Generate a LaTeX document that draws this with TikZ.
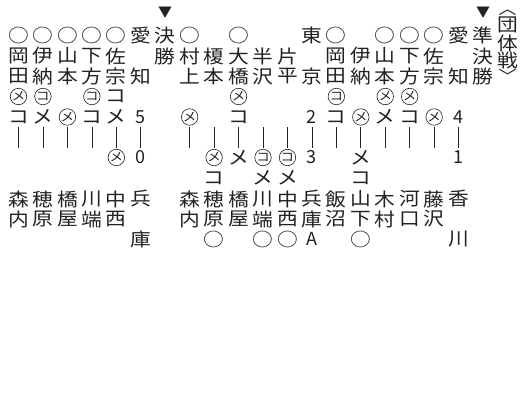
\documentclass[tikz,border=0pt]{standalone}
\usepackage{fontspec}
\newfontfamily\jpw[FakeStretch=1.12]{Noto Sans CJK JP}
\newfontfamily\jpn{Noto Sans CJK JP}
\definecolor{ink}{HTML}{222222}
\newcommand\colX[1]{\fpeval{18.5+24.45*(#1-1)}}
\def\rowyZ{12.5}\def\rowyA{35.5}\def\rowyB{56}\def\rowyC{76.5}\def\rowyD{96.5}\def\rowyE{117}
\def\rowyF{157.5}\def\rowyG{178}\def\rowyH{199}\def\rowyI{219}\def\rowyJ{239}
\newcommand\T[4][jpc]{\node[#1] (n#2#3) at (\colX{#2},\csname rowy#3\endcsname) {#4};}
\begin{document}
\begin{tikzpicture}[x=1pt,y=-1pt,
  jpc/.style={font=\jpw\fontsize{18.5}{18.5}\selectfont, inner sep=0pt, text=ink},
  brk/.style={font=\jpw\fontsize{16}{16}\selectfont, inner sep=0pt, text=ink},
  digit/.style={font=\jpn\fontsize{18}{18}\selectfont, inner sep=0pt, text=ink},
  circmark/.style={draw=ink, circle, line width=0.6pt, inner sep=0pt, minimum size=16.5pt,
             font=\jpw\fontsize{12}{12}\selectfont, text=ink},
  tritext/.style={font=\jpn\fontsize{14}{14}\selectfont, inner sep=0pt, text=ink},
  boutline/.style={draw=ink, line width=0.7pt}]
\useasboundingbox (0,0) rectangle (526,402);
% ---- left group
\T{1}{A}{○}\T{2}{A}{○}\T{3}{A}{○}\T{4}{A}{○}\T{5}{A}{○}\T{6}{A}{愛}\T{7}{A}{決}
\T{1}{B}{岡}\T{2}{B}{伊}\T{3}{B}{山}\T{4}{B}{下}\T{5}{B}{佐}\T{7}{B}{勝}
\T{1}{C}{田}\T{2}{C}{納}\T{3}{C}{本}\T{4}{C}{方}\T{5}{C}{宗}\T{6}{C}{知}
\T[circmark]{1}{D}{メ}\T[circmark]{2}{D}{コ}\T[circmark]{4}{D}{コ}\T{5}{D}{コ}
\T{1}{E}{コ}\T{2}{E}{メ}\T[circmark]{3}{E}{メ}\T{4}{E}{コ}\T{5}{E}{メ}\T[digit]{6}{E}{5}
\T[circmark]{5}{F}{メ}\T[digit]{6}{F}{0}
\T{1}{H}{森}\T{2}{H}{穂}\T{3}{H}{橋}\T{4}{H}{川}\T{5}{H}{中}\T{6}{H}{兵}
\T{1}{I}{内}\T{2}{I}{原}\T{3}{I}{屋}\T{4}{I}{端}\T{5}{I}{西}
\T{6}{J}{庫}
\T[tritext]{7}{Z}{▼}
% ---- right groups
\T{8}{A}{○}\T{10}{A}{○}\T{13}{A}{東}\T{14}{A}{○}\T{16}{A}{○}\T{17}{A}{○}\T{18}{A}{○}\T{19}{A}{愛}\T{20}{A}{準}
\T{8}{B}{村}\T{9}{B}{榎}\T{10}{B}{大}\T{11}{B}{半}\T{12}{B}{片}\T{14}{B}{岡}\T{15}{B}{伊}\T{16}{B}{山}\T{17}{B}{下}\T{18}{B}{佐}\T{20}{B}{決}
\T{8}{C}{上}\T{9}{C}{本}\T{10}{C}{橋}\T{11}{C}{沢}\T{12}{C}{平}\T{13}{C}{京}\T{14}{C}{田}\T{15}{C}{納}\T{16}{C}{本}\T{17}{C}{方}\T{18}{C}{宗}\T{19}{C}{知}\T{20}{C}{勝}
\T[circmark]{10}{D}{メ}\T[circmark]{14}{D}{コ}\T[circmark]{16}{D}{メ}\T[circmark]{17}{D}{メ}
\T[circmark]{8}{E}{メ}\T{10}{E}{コ}\T[digit]{13}{E}{2}\T{14}{E}{コ}\T[circmark]{15}{E}{メ}\T{16}{E}{メ}\T{17}{E}{コ}\T[circmark]{18}{E}{メ}\T[digit]{19}{E}{4}
\T[circmark]{9}{F}{メ}\T{10}{F}{メ}\T[circmark]{11}{F}{コ}\T[circmark]{12}{F}{コ}\T[digit]{13}{F}{3}\T{15}{F}{メ}\T[digit]{19}{F}{1}
\T{9}{G}{コ}\T{11}{G}{メ}\T{12}{G}{メ}\T{15}{G}{コ}
\T{8}{H}{森}\T{9}{H}{穂}\T{10}{H}{橋}\T{11}{H}{川}\T{12}{H}{中}\T{13}{H}{兵}\T{14}{H}{飯}\T{15}{H}{山}\T{16}{H}{木}\T{17}{H}{河}\T{18}{H}{藤}\T{19}{H}{香}
\T{8}{I}{内}\T{9}{I}{原}\T{10}{I}{屋}\T{11}{I}{端}\T{12}{I}{西}\T{13}{I}{庫}\T{14}{I}{沼}\T{15}{I}{下}\T{16}{I}{村}\T{17}{I}{口}\T{18}{I}{沢}
\T{9}{J}{○}\T{11}{J}{○}\T{12}{J}{○}\T[digit]{13}{J}{A}\T{15}{J}{○}\T{19}{J}{川}
\T[tritext]{20}{Z}{▼}
% ---- title column
\node[brk] (br1) at (\colX{21},12.5) {︿};
\node[jpc] (ti1) at (\colX{21},25) {団};
\node[jpc] (ti2) at (\colX{21},43) {体};
\node[jpc] (ti3) at (\colX{21},60.5) {戦};
\node[brk] (br2) at (\colX{21},76) {﹀};
% ---- bout lines
\foreach \c in {1,...,6,8,9,...,19}{
  \coordinate (t\c) at (\colX{\c},127);
  \coordinate (b\c) at (\colX{\c},148);
  \draw[boutline] (t\c) -- (b\c);
}
\end{tikzpicture}
\end{document}
